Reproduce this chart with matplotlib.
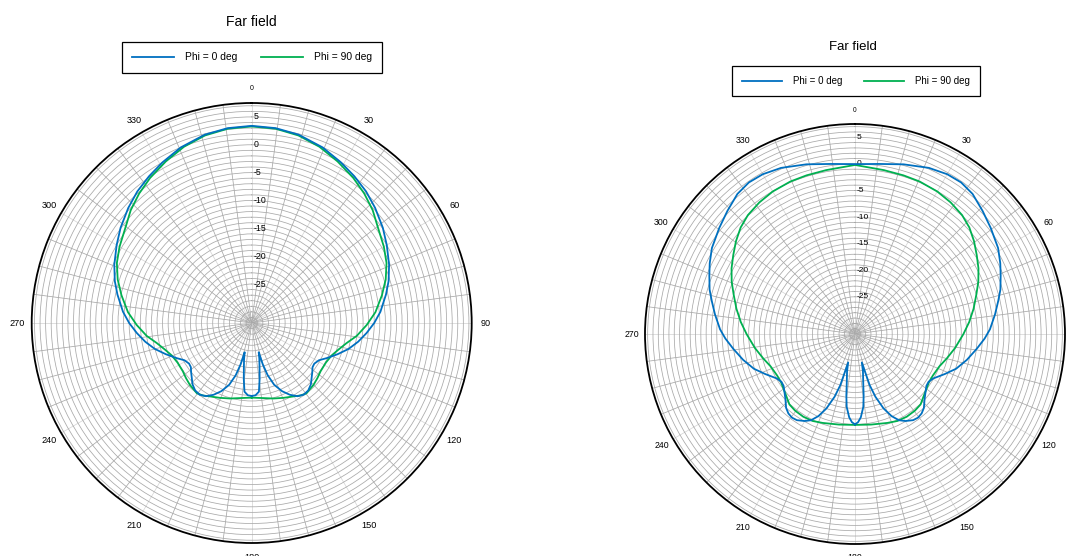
import numpy as np
import matplotlib.pyplot as plt
from matplotlib.transforms import offset_copy

plt.rcParams['font.family'] = ['Liberation Sans', 'DejaVu Sans']

# angles in deg (0 = top, clockwise), gains in dBi

# left plot
left_phi0_theta = [-180, -177, -174, -172, -170, -168, -166.5, -165, -163, -160,
                   -156, -152, -148, -144, -140, -136, -132, -129, -126, -123,
                   -119, -115, -110, -105, -100, -95, -90, -85, -78, -73,
                   -67, -60, -54, -47, -41, -35, -29, -22, -14, -7, 0,
                   7, 14, 22, 29, 35, 41, 47, 54, 60, 67,
                   73, 78, 85, 90, 95, 100, 105, 110, 115, 119,
                   123, 126, 129, 132, 136, 140, 144, 148, 152, 156,
                   160, 163, 165, 166.5, 168, 170, 172, 174, 177, 180]
left_phi0_gain = [-18.9, -19.0, -19.6, -21.8, -23.9, -25.4, -26.6, -24.3, -22.2, -20.2,
                  -18.6, -17.4, -16.5, -16.1, -16.2, -16.7, -17.5, -18.0, -18.5, -18.6,
                  -18.2, -17.1, -15.6, -14.0, -12.6, -11.3, -10.0, -8.8, -7.35, -6.3,
                  -5.2, -4.0, -2.9, -1.7, -0.7, 0.15, 1.0, 2.0, 2.85, 3.25, 3.4,
                  3.25, 2.85, 2.0, 1.0, 0.15, -0.7, -1.7, -2.9, -4.0, -5.2,
                  -6.3, -7.35, -8.8, -10.0, -11.3, -12.6, -14.0, -15.6, -17.1, -18.2,
                  -18.6, -18.5, -18.0, -17.5, -16.7, -16.2, -16.1, -16.5, -17.4, -18.6,
                  -20.2, -22.2, -24.3, -26.6, -25.4, -23.9, -21.8, -19.6, -19.0, -18.9]

left_phi90_theta = [-180, -170, -164, -157, -150, -146, -142, -135, -130, -125,
                    -118, -112, -107, -102, -97, -91, -85, -78, -72, -66,
                    -60, -53, -47, -41, -35, -28, -21, -14, -7, 0,
                    7, 14, 21, 28, 35, 41, 47, 53, 60, 66,
                    72, 78, 85, 91, 97, 102, 107, 112, 118, 125,
                    130, 135, 142, 146, 150, 157, 164, 170, 180]
left_phi90_gain = [-18.6, -18.3, -17.9, -17.4, -16.8, -16.3, -16.0, -16.3, -16.6, -16.9,
                   -16.9, -16.5, -15.7, -14.6, -13.0, -11.35, -9.7, -8.1, -6.7, -5.5,
                   -4.6, -3.6, -2.3, -1.2, -0.2, 0.85, 1.9, 2.7, 3.15, 3.3,
                   3.15, 2.7, 1.9, 0.85, -0.2, -1.2, -2.3, -3.6, -4.6, -5.5,
                   -6.7, -8.1, -9.7, -11.35, -13.0, -14.6, -15.7, -16.5, -16.9, -16.9,
                   -16.6, -16.3, -16.0, -16.3, -16.8, -17.4, -17.9, -18.3, -18.6]

# right plot
right_phi0_theta = [-180, -178, -176, -173.5, -172, -170.5, -168, -166.5, -164, -162,
                    -159, -156, -153, -150, -146, -143, -140, -137, -133, -129,
                    -126, -123, -119.5, -114, -109, -103, -97, -92, -88, -82,
                    -77, -73, -68, -64, -59, -52, -46, -40, -35, -30,
                    -24, -16, -8, 0,
                    8, 16, 24, 30, 35, 40, 46, 52, 59, 64,
                    68, 73, 77, 82, 88, 92, 97, 103, 109, 114,
                    119.5, 123, 126, 129, 133, 137, 140, 143, 146, 150,
                    153, 156, 159, 162, 164, 166.5, 168, 170.5, 172, 173.5,
                    176, 178, 180]
right_phi0_gain = [-15.0, -15.4, -16.3, -18.2, -20.3, -22.6, -24.8, -26.5, -22.0, -19.6,
                   -17.0, -15.1, -13.8, -13.1, -12.45, -12.3, -12.5, -13.0, -14.1, -14.9,
                   -15.4, -15.5, -15.05, -13.5, -11.9, -10.4, -8.95, -7.6, -6.6, -5.4,
                   -4.35, -3.4, -2.45, -1.6, -0.6, 0.4, 1.35, 2.4, 2.8, 2.7,
                   2.2, 1.2, 0.3, -0.05,
                   0.3, 1.2, 2.2, 2.7, 2.8, 2.4, 1.35, 0.4, -0.6, -1.6,
                   -2.45, -3.4, -4.35, -5.4, -6.6, -7.6, -8.95, -10.4, -11.9, -13.5,
                   -15.05, -15.5, -15.4, -14.9, -14.1, -13.0, -12.5, -12.3, -12.45, -13.1,
                   -13.8, -15.1, -17.0, -19.6, -22.0, -26.5, -24.8, -22.6, -20.3, -18.2,
                   -16.3, -15.4, -15.0]

right_phi90_theta = [-180, -170, -160, -154, -148, -142, -137, -132, -127, -123,
                     -118, -111, -105, -98, -90, -84, -78, -72, -67, -62,
                     -57, -52, -47, -42, -36, -30, -23, -17, -10, 0,
                     10, 17, 23, 30, 36, 42, 47, 52, 57, 62,
                     67, 72, 78, 84, 90, 98, 105, 111, 118, 123,
                     127, 132, 137, 142, 148, 154, 160, 170, 180]
right_phi90_gain = [-14.9, -14.7, -14.2, -13.8, -13.65, -13.7, -13.9, -14.6, -15.1, -15.4,
                    -15.4, -15.0, -14.15, -13.0, -11.6, -10.4, -9.2, -8.0, -6.8, -5.7,
                    -4.7, -3.6, -2.6, -1.9, -1.4, -1.05, -0.85, -0.8, -0.7, -0.2,
                    -0.7, -0.8, -0.85, -1.05, -1.4, -1.9, -2.6, -3.6, -4.7, -5.7,
                    -6.8, -8.0, -9.2, -10.4, -11.6, -13.0, -14.15, -15.0, -15.4, -15.4,
                    -15.1, -14.6, -13.9, -13.7, -13.65, -13.8, -14.2, -14.7, -14.9]

angle_labels = list(range(0, 360, 30))
radial_labels = [5, 0, -5, -10, -15, -20, -25]
R_MIN, R_MAX = -32, 7.5

BLUE = '#0070c0'
GREEN = '#00b050'

W, H = 1073, 556
fig = plt.figure(figsize=(W / 100, H / 100), dpi=100)


def polar_at(cx, cy, r):
    return fig.add_axes([(cx - r) / W, (H - cy - r) / H, 2 * r / W, 2 * r / H], projection='polar')


def style(ax, k):
    # k scales the text, the left picture was exported a bit larger
    ax.set_theta_zero_location('N')
    ax.set_theta_direction(-1)
    ax.set_ylim(R_MIN, R_MAX)
    ax.set_xticks(np.deg2rad(np.arange(0, 360, 7.5)))
    ax.set_yticks(np.arange(-31, 8))
    ax.set_xticklabels([])
    ax.set_yticklabels([])
    ax.tick_params(length=0)
    ax.grid(True, color='#a8a8a8', lw=0.55)
    for i, gl in enumerate(ax.xaxis.get_gridlines()):
        if i % 4 == 0:
            gl.set_color('#d6d6d6')
    ax.spines['polar'].set_color('black')
    ax.spines['polar'].set_linewidth(1.3)
    for a in angle_labels:
        t = np.deg2rad(a)
        ax.text(0.5 + 0.532 * np.sin(t), 0.5 + 0.532 * np.cos(t), str(a), transform=ax.transAxes,
                ha='center', va='center', fontsize=(4.8 if a == 0 else 6.3) * k)
    shifted = offset_copy(ax.transData, fig=fig, x=2, y=0, units='dots')
    for v in radial_labels:
        ax.text(0, v, str(v), transform=shifted, ha='left', va='center', fontsize=6 * k)


def add_legend(ax, cx, cy, k):
    ax.legend(loc='center', bbox_to_anchor=(cx / W, 1 - cy / H), bbox_transform=fig.transFigure,
              ncol=2, fontsize=7 * k, frameon=True, fancybox=False, edgecolor='black', framealpha=1,
              handlelength=4.1, handletextpad=1.1, columnspacing=2.3, borderpad=1.0)
    ax.get_legend().get_frame().set_linewidth(0.9)


# left chart
ax1 = polar_at(251.7, 323, 220)
style(ax1, 1.05)
ax1.plot(np.deg2rad(left_phi0_theta), left_phi0_gain, color=BLUE, lw=1.3, zorder=3, label='Phi = 0 deg')
ax1.plot(np.deg2rad(left_phi90_theta), left_phi90_gain, color=GREEN, lw=1.3, zorder=2, label='Phi = 90 deg')
ax1.set_ylim(R_MIN, R_MAX)
add_legend(ax1, 252, 57.5, 1.05)
fig.text(251.7 / W, 1 - 22 / H, 'Far field', ha='center', va='center', fontsize=10)

# right chart
ax2 = polar_at(855, 334, 210)
style(ax2, 1.0)
ax2.plot(np.deg2rad(right_phi0_theta), right_phi0_gain, color=BLUE, lw=1.3, zorder=3, label='Phi = 0 deg')
ax2.plot(np.deg2rad(right_phi90_theta), right_phi90_gain, color=GREEN, lw=1.3, zorder=2, label='Phi = 90 deg')
ax2.set_ylim(R_MIN, R_MAX)
add_legend(ax2, 856, 81, 1.0)
fig.text(853 / W, 1 - 47 / H, 'Far field', ha='center', va='center', fontsize=9.5)

fig.savefig('out.png', dpi=100)
